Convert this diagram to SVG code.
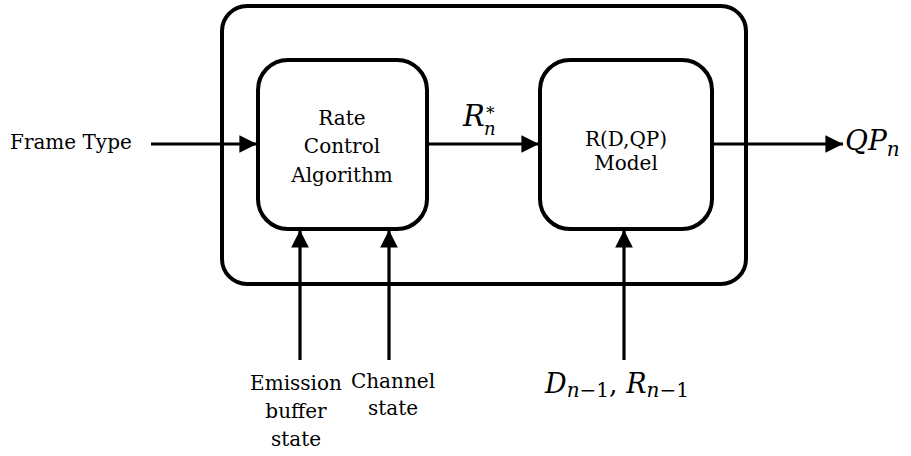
<svg xmlns="http://www.w3.org/2000/svg" width="911" height="456" viewBox="0 0 911 456">
  <style>
    .box { fill: #fff; stroke: #000; stroke-width: 4; }
    .wire { fill: none; stroke: #000; stroke-width: 3.2; }
    .lbl { font-family: "DejaVu Serif", "Liberation Serif", serif; font-size: 20px; fill: #000; }
    .math { font-family: "DejaVu Serif", "Liberation Serif", serif; font-style: italic; fill: #000; }
  </style>
  <defs>
    <marker id="arrow" viewBox="0 0 10 10" refX="10" refY="5" markerWidth="5.5" markerHeight="5.5" markerUnits="strokeWidth" orient="auto">
      <path d="M0,0 L10,5 L0,10 Z" fill="#000"/>
    </marker>
  </defs>

  <!-- enclosing system -->
  <g id="system">
    <rect class="box" x="222" y="6" width="524" height="278" rx="25" ry="25"/>
  </g>

  <g id="rate-control">
    <rect class="box" x="258" y="60" width="169" height="169" rx="30" ry="30"/>
    <text class="lbl" text-anchor="middle" x="342" y="125">Rate</text>
    <text class="lbl" text-anchor="middle" x="342" y="153">Control</text>
    <text class="lbl" text-anchor="middle" x="342" y="182">Algorithm</text>
  </g>

  <g id="rd-model">
    <rect class="box" x="540" y="60" width="172" height="169" rx="30" ry="30"/>
    <text class="lbl" text-anchor="middle" x="626" y="146">R(D,QP)</text>
    <text class="lbl" text-anchor="middle" x="626" y="170">Model</text>
  </g>

  <g id="connectors">
    <line class="wire" x1="151" y1="144" x2="257" y2="144" marker-end="url(#arrow)"/>
    <line class="wire" x1="427" y1="144" x2="539" y2="144" marker-end="url(#arrow)"/>
    <line class="wire" x1="712" y1="144" x2="843" y2="144" marker-end="url(#arrow)"/>
    <line class="wire" x1="300" y1="360" x2="300" y2="230" marker-end="url(#arrow)"/>
    <line class="wire" x1="389" y1="360" x2="389" y2="230" marker-end="url(#arrow)"/>
    <line class="wire" x1="624" y1="360" x2="624" y2="230" marker-end="url(#arrow)"/>
  </g>

  <g id="labels">
    <text class="lbl" x="10" y="149">Frame Type</text>
    <!-- R*_n: superscript and subscript stacked after the R -->
    <text class="math" font-size="29" x="463" y="126">R<tspan font-size="17" dy="-11">∗</tspan></text>
    <text class="math" font-size="18" x="484" y="135">n</text>
    <text class="math" font-size="28" x="845" y="150">QP<tspan font-size="20" dy="6">n</tspan></text>
    <text class="lbl" text-anchor="middle" x="296" y="390">Emission</text>
    <text class="lbl" text-anchor="middle" x="296" y="418">buffer</text>
    <text class="lbl" text-anchor="middle" x="296" y="446">state</text>
    <text class="lbl" text-anchor="middle" x="393" y="388">Channel</text>
    <text class="lbl" text-anchor="middle" x="393" y="415">state</text>
    <text class="math" font-size="27" x="545" y="393">D<tspan font-size="20" dy="4">n</tspan><tspan font-size="20" font-style="normal">−1</tspan><tspan dy="-4" font-style="normal">, </tspan>R<tspan font-size="20" dy="4">n</tspan><tspan font-size="20" font-style="normal">−1</tspan></text>
  </g>
</svg>
